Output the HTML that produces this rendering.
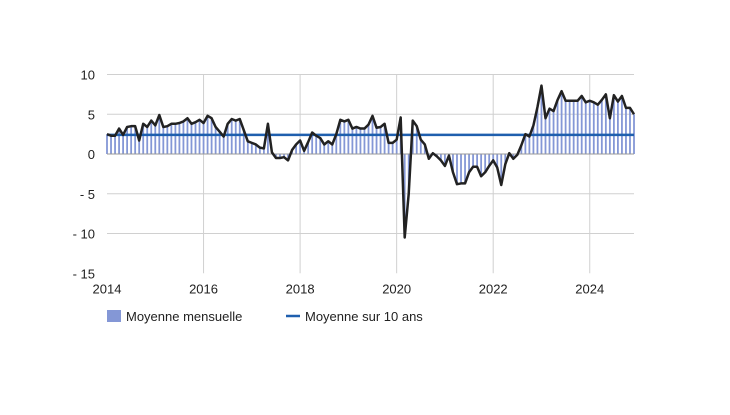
<!DOCTYPE html>
<html><head><meta charset="utf-8"><style>
body{margin:0;background:#fff;font-family:"Liberation Sans",sans-serif}
svg text{font-family:"Liberation Sans",sans-serif;font-size:13px;fill:#222}
</style></head><body>
<svg id="c" width="730" height="410"></svg>
<script>
const values=[2.5,2.3,2.3,3.2,2.4,3.4,3.5,3.5,1.7,3.8,3.4,4.2,
3.6,4.9,3.4,3.5,3.8,3.8,3.9,4.1,4.5,3.8,4.0,4.3,
3.9,4.8,4.5,3.4,2.8,2.2,3.8,4.4,4.2,4.4,3.0,1.6,
1.4,1.2,0.8,0.7,3.8,0.2,-0.5,-0.5,-0.4,-0.8,0.5,1.2,
1.7,0.4,1.5,2.7,2.3,2.0,1.2,1.6,1.2,2.5,4.3,4.1,
4.3,3.2,3.4,3.2,3.2,3.7,4.8,3.3,3.4,3.8,1.4,1.4,
1.8,4.6,-10.5,-5,4.2,3.5,1.8,1.2,-0.6,0.1,-0.3,-0.8,
-1.5,-0.2,-2.3,-3.8,-3.7,-3.7,-2.3,-1.6,-1.6,-2.8,-2.3,-1.5,
-0.8,-1.7,-3.9,-1.3,0.1,-0.6,-0.1,1.1,2.5,2.2,3.6,5.9,
8.6,4.5,5.7,5.4,6.8,7.9,6.7,6.7,6.7,6.7,7.3,6.5,
6.7,6.5,6.2,6.8,7.5,4.5,7.4,6.6,7.3,5.8,5.8,5.0];
const average=[2.4];
const yTicks=[10,5,0,-5,-10,-15];
const yTickLabels=["10","5","0","- 5","- 10","- 15"];
const xYears=[2014,2016,2018,2020,2022,2024];
const NS="http://www.w3.org/2000/svg",svg=document.getElementById('c');
const X0=107,X1=634,Y0=154,PU=7.95;
const x=i=>X0+i*(X1-X0)/(values.length-1);
const xy=yr=>X0+(yr-2014)*12*(X1-X0)/(values.length-1);
const y=v=>Y0-v*PU;
function el(t,a,p){const e=document.createElementNS(NS,t);for(const k in a)e.setAttribute(k,a[k]);(p||svg).appendChild(e);return e;}
yTicks.forEach((v,i)=>{
 if(v!==0&&v!==-15){const g=el('line',{x1:X0,x2:X1,y1:y(v),y2:y(v),stroke:'#d0d0d0'});
 }
 const t=el('text',{x:95,y:y(v)+5,'text-anchor':'end'});t.textContent=yTickLabels[i];
 
});
xYears.forEach(yr=>{
 if(yr!==2014){const g=el('line',{x1:xy(yr),x2:xy(yr),y1:y(10),y2:y(-15),stroke:'#d0d0d0'});
 }
 const t=el('text',{x:xy(yr),y:y(-15)+20,'text-anchor':'middle'});t.textContent=yr;
 
});
values.forEach((v,i)=>{
 const b=el('line',{x1:x(i),x2:x(i),y1:y(0),y2:y(v),stroke:'#8497d6','stroke-width':1.8});
 
});
const z=el('line',{x1:X0,x2:X1,y1:y(0),y2:y(0),stroke:'#999'});

const a=el('line',{x1:X0,x2:X1,y1:y(average[0]),y2:y(average[0]),stroke:'#1f5fae','stroke-width':2.5});

const p=el('polyline',{points:values.map((v,i)=>x(i)+','+y(v)).join(' '),fill:'none',stroke:'#222','stroke-width':2.5,'stroke-linejoin':'round'});

const lg=el('g',{});
const r=el('rect',{x:107,y:310,width:14,height:12,fill:'#8497d6'},lg);

const t1=el('text',{x:126,y:321},lg);t1.textContent='Moyenne mensuelle';

const l2=el('line',{x1:286,x2:300,y1:316,y2:316,stroke:'#1f5fae','stroke-width':2.5},lg);

const t2=el('text',{x:305,y:321},lg);t2.textContent='Moyenne sur 10 ans';

</script>
</body></html>
